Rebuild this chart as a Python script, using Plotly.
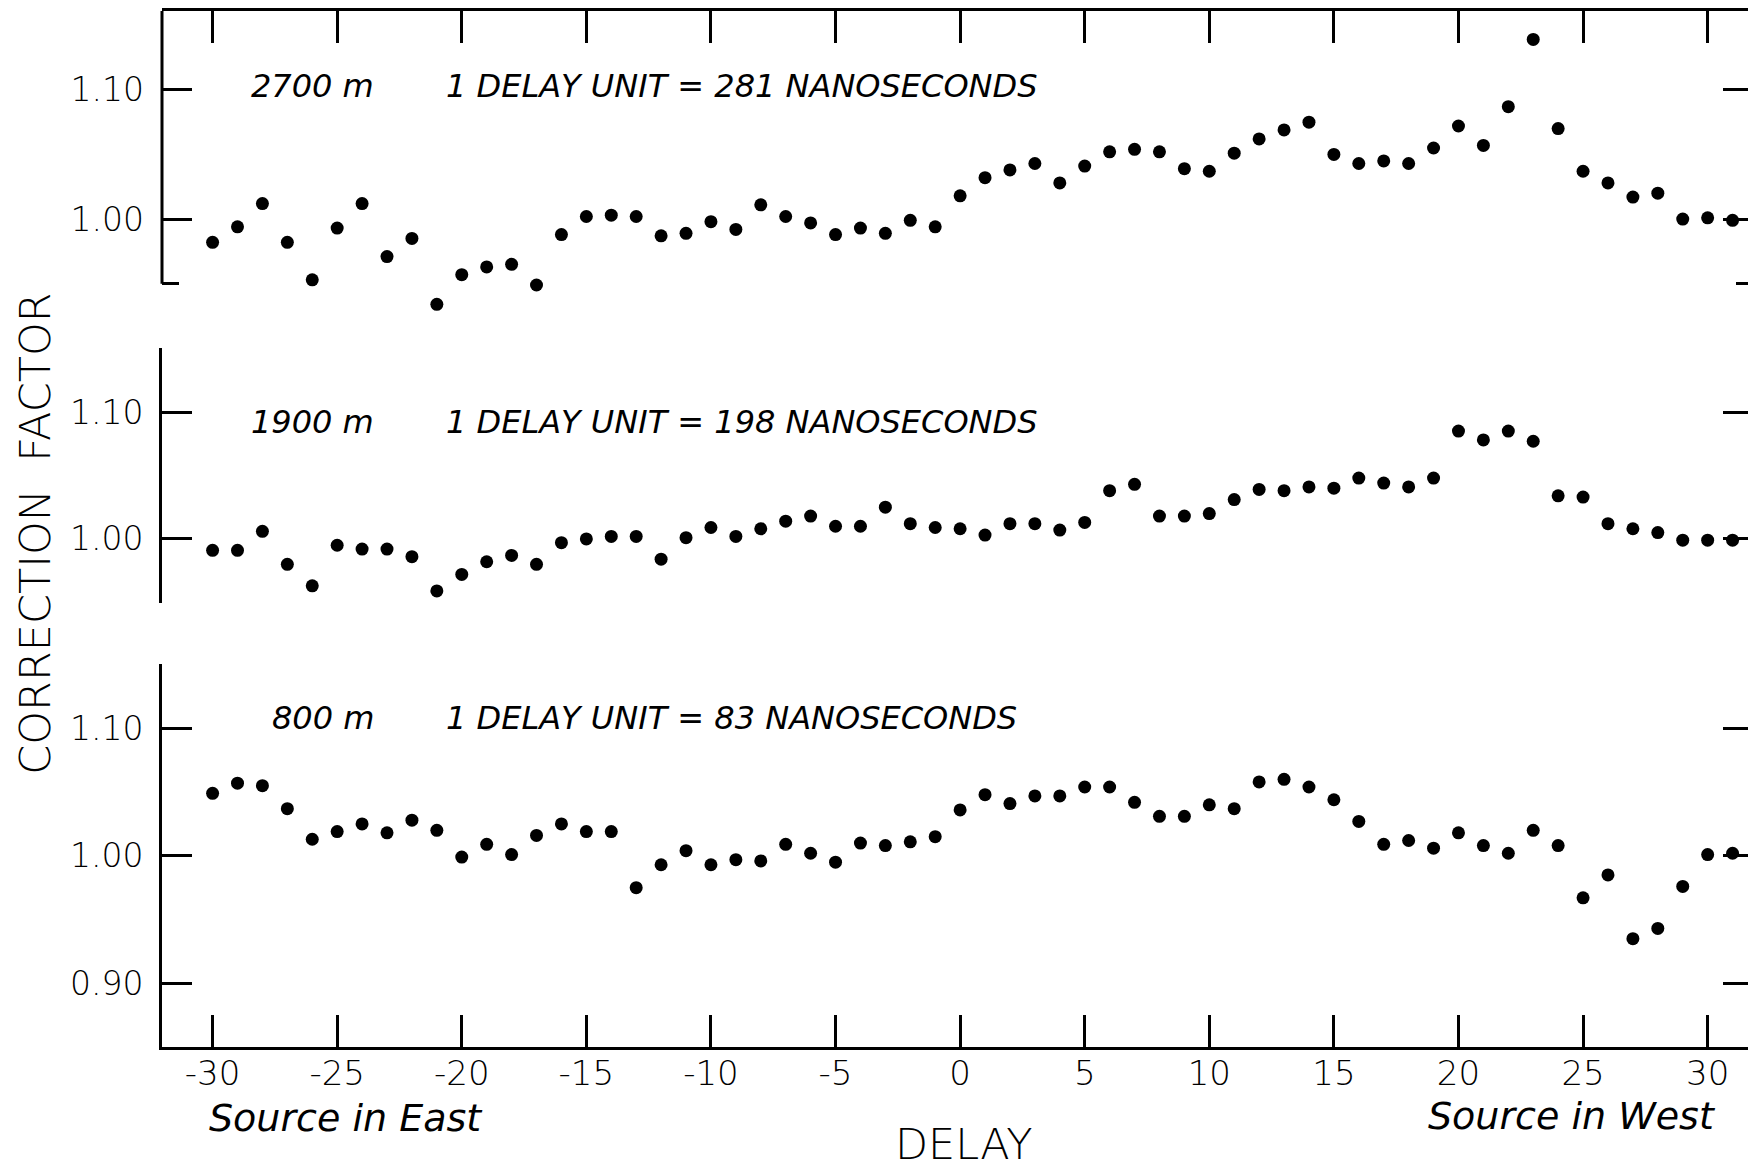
import plotly.graph_objects as go

# ---------------- data ----------------
delay = list(range(-30, 32))

cf_2700 = [0.982, 0.994, 1.012, 0.982, 0.953, 0.993, 1.012, 0.971, 0.985, 0.934,
           0.957, 0.963, 0.965, 0.949, 0.988, 1.002, 1.003, 1.002, 0.987, 0.989,
           0.998, 0.992, 1.011, 1.002, 0.997, 0.988, 0.993, 0.989, 0.999, 0.994,
           1.018, 1.032, 1.038, 1.043, 1.028, 1.041, 1.052, 1.054, 1.052, 1.039,
           1.037, 1.051, 1.062, 1.069, 1.075, 1.050, 1.043, 1.045, 1.043, 1.055,
           1.072, 1.057, 1.087, 1.139, 1.070, 1.037, 1.028, 1.017, 1.020, 1.000,
           1.001, 0.999]

cf_1900 = [0.991, 0.991, 1.006, 0.980, 0.963, 0.995, 0.992, 0.992, 0.986, 0.959,
           0.972, 0.982, 0.987, 0.980, 0.997, 1.000, 1.002, 1.002, 0.984, 1.001,
           1.009, 1.002, 1.008, 1.014, 1.018, 1.010, 1.010, 1.025, 1.012, 1.009,
           1.008, 1.003, 1.012, 1.012, 1.007, 1.013, 1.038, 1.043, 1.018, 1.018,
           1.020, 1.031, 1.039, 1.038, 1.041, 1.040, 1.048, 1.044, 1.041, 1.048,
           1.085, 1.078, 1.085, 1.077, 1.034, 1.033, 1.012, 1.008, 1.005, 0.999,
           0.999, 0.999]

cf_800 = [1.049, 1.057, 1.055, 1.037, 1.013, 1.019, 1.025, 1.018, 1.028, 1.020,
          0.999, 1.009, 1.001, 1.016, 1.025, 1.019, 1.019, 0.975, 0.993, 1.004,
          0.993, 0.997, 0.996, 1.009, 1.002, 0.995, 1.010, 1.008, 1.011, 1.015,
          1.036, 1.048, 1.041, 1.047, 1.047, 1.054, 1.054, 1.042, 1.031, 1.031,
          1.040, 1.037, 1.058, 1.060, 1.054, 1.044, 1.027, 1.009, 1.012, 1.006,
          1.018, 1.008, 1.002, 1.020, 1.008, 0.967, 0.985, 0.935, 0.943, 0.976,
          1.001, 1.002]

x_tickvals = [-30, -25, -20, -15, -10, -5, 0, 5, 10, 15, 20, 25, 30]
x_ticktext = ["-30", "-25", "-20", "-15", "-10", "-5", "0", "5", "10", "15", "20", "25", "30"]

panel_labels = ["2700 m", "1900 m", "800 m"]
panel_units = ["1 DELAY UNIT = 281 NANOSECONDS",
               "1 DELAY UNIT = 198 NANOSECONDS",
               "1 DELAY UNIT = 83 NANOSECONDS"]

# ---------------- figure ----------------
FONT = "DejaVu Sans"
INK = "black"
series = [cf_2700, cf_1900, cf_800]
axes_ids = [("x", "y"), ("x2", "y2"), ("x3", "y3")]

fig = go.Figure()
for ys, (xa, ya) in zip(series, axes_ids):
    fig.add_trace(go.Scatter(x=delay, y=ys, mode="markers", xaxis=xa, yaxis=ya,
                             marker=dict(size=13, color=INK, line=dict(width=0)),
                             cliponaxis=False,
                             showlegend=False, hoverinfo="x+y"))

xr = [-32.03, 31.82]
tickfont = dict(family=FONT, size=33, color=INK, weight=300)

common_y = dict(linewidth=3, linecolor=INK, mirror="ticks",
                ticks="inside", ticklen=30, tickwidth=3, tickcolor=INK,
                showgrid=False, zeroline=False, tickformat=".2f",
                tickfont=tickfont)

# page has an 8px body margin: offset the figure so the plot sits where the reference has it
fig.update_layout(
    width=1748, height=1161,
    margin=dict(l=154, r=0, t=3, b=122),
    paper_bgcolor="white", plot_bgcolor="white",
    showlegend=False,
    xaxis=dict(domain=[0, 1], anchor="y", side="top", range=xr,
               showline=True, linewidth=3, linecolor=INK,
               ticks="inside", ticklen=32, tickwidth=2.5, tickcolor=INK,
               tickvals=x_tickvals, showticklabels=False,
               showgrid=False, zeroline=False),
    xaxis2=dict(domain=[0, 1], anchor="y2", range=xr, visible=False),
    xaxis3=dict(domain=[0, 1], anchor="y3", side="bottom", range=xr,
                showline=True, linewidth=3, linecolor=INK,
                ticks="inside", ticklen=32, tickwidth=2.5, tickcolor=INK,
                tickvals=x_tickvals, ticktext=x_ticktext,
                tickfont=dict(family=FONT, size=34, color=INK, weight=300),
                ticklabelstandoff=-6,
                showgrid=False, zeroline=False),
    # top panel: range extends below 0.95 so the low points show; axis line drawn as a shape
    yaxis=dict(domain=[0.7056, 1.0], anchor="x", range=[0.925, 1.161],
               showline=False, tickvals=[1.00, 1.10], ticklabelstandoff=17,
               minor=dict(tickvals=[0.95], ticks="inside", ticklen=17,
                          tickwidth=3, tickcolor=INK, showgrid=False),
               **common_y),
    yaxis2=dict(domain=[0.4286, 0.6747], anchor="x2", range=[0.9495, 1.1505],
                showline=True, tickvals=[1.00, 1.10], ticklabelstandoff=9,
                minor=dict(tickvals=[0.95, 1.15], ticks="inside", ticklen=17,
                           tickwidth=3, tickcolor=INK, showgrid=False),
                **common_y),
    yaxis3=dict(domain=[0.0, 0.3697], anchor="x3", range=[0.85, 1.1505],
                showline=True, tickvals=[0.90, 1.00, 1.10], ticklabelstandoff=9,
                minor=dict(tickvals=[1.15], ticks="inside", ticklen=17,
                           tickwidth=3, tickcolor=INK, showgrid=False),
                **common_y),
)

# left axis line of the top panel (from 0.95 up to the top frame)
fig.add_shape(type="line", xref="x domain", yref="y", x0=0, x1=0, y0=0.95, y1=1.161,
              line=dict(color=INK, width=3))

italic = dict(family=FONT, size=32, color=INK, style="italic")
label_y = [1.103, 1.092, 1.108]
for (xa, ya), lab, unit, yy in zip(axes_ids, panel_labels, panel_units, label_y):
    fig.add_annotation(x=-23.46, y=yy, xref=xa, yref=ya, text=lab, showarrow=False,
                       xanchor="right", yanchor="middle", font=italic)
    fig.add_annotation(x=-20.72, y=yy, xref=xa, yref=ya, text=unit, showarrow=False,
                       xanchor="left", yanchor="middle", font=italic)

fig.add_annotation(x=0.0282, y=-0.0685, xref="paper", yref="paper",
                   text="Source in East", showarrow=False,
                   xanchor="left", yanchor="middle",
                   font=dict(family=FONT, size=38, color=INK, style="italic"))
fig.add_annotation(x=0.978, y=-0.0666, xref="paper", yref="paper",
                   text="Source in West", showarrow=False,
                   xanchor="right", yanchor="middle",
                   font=dict(family=FONT, size=38, color=INK, style="italic"))
fig.add_annotation(x=0.504, y=-0.094, xref="paper", yref="paper",
                   text="DELAY", showarrow=False,
                   xanchor="center", yanchor="middle",
                   font=dict(family=FONT, size=43, color=INK, weight=300))
fig.add_annotation(x=-0.080, y=0.496, xref="paper", yref="paper",
                   text="CORRECTION  FACTOR", showarrow=False, textangle=-90,
                   xanchor="center", yanchor="middle",
                   font=dict(family=FONT, size=43, color=INK, weight=300))

fig.write_html("out.html")
